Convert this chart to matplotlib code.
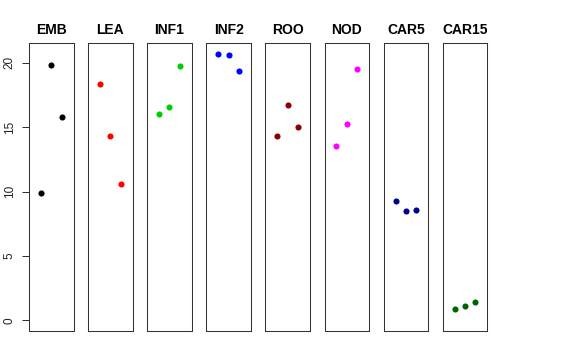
import numpy as np
import matplotlib
matplotlib.use('Agg')
from matplotlib import pyplot as plt

plt.rcParams['font.family'] = ['Liberation Sans', 'DejaVu Sans']

# panel names, colours and the three values of each panel
groups = ['EMB', 'LEA', 'INF1', 'INF2', 'ROO', 'NOD', 'CAR5', 'CAR15']
colors = ['#000000', '#FF0000', '#00CD00', '#0000FF', '#8B0000', '#FF00FF', '#00008B', '#006400']
emb = [9.88, 19.85, 15.79]
lea = [18.33, 14.34, 10.60]
inf1 = [16.02, 16.57, 19.74]
inf2 = [20.70, 20.57, 19.33]
roo = [14.34, 16.70, 15.02]
nod = [13.54, 15.22, 19.51]
car5 = [9.28, 8.45, 8.58]
car15 = [0.88, 1.09, 1.43]
values = [emb, lea, inf1, inf2, roo, nod, car5, car15]
yticks = [0, 5, 10, 15, 20]

W, H = 576, 360
fig = plt.figure(figsize=(W/100, H/100), dpi=100)

# panel geometry in pixels
left0 = 29
pitch = 59.1
pw = 44.5
top = 43
bottom = 331

ymax = max(max(v) for v in values)
pad = 0.04*ymax

for i, (name, col, vals) in enumerate(zip(groups, colors, values)):
    x0 = left0 + i*pitch
    ax = fig.add_axes([x0/W, 1 - bottom/H, pw/W, (bottom - top)/H])
    ax.plot(np.arange(1, len(vals) + 1), vals, 'o', color=col, markersize=4.4, markeredgewidth=0)
    ax.set_xlim(-0.16, 4.16)
    ax.set_ylim(-pad, ymax + pad)
    ax.set_xticks([])
    ax.set_title(name, fontsize=10, fontweight='bold', pad=6.5)
    for s in ax.spines.values():
        s.set_linewidth(0.75)
        s.set_color('#333333')
    if i == 0:
        ax.set_yticks(yticks)
        ax.set_yticklabels([str(t) for t in yticks], rotation=90, va='center', fontsize=8.5)
        ax.tick_params(axis='y', length=5, width=0.75, pad=4.5, colors='#333333', labelcolor='#222222')
    else:
        ax.set_yticks([])

fig.savefig('out.png', dpi=100)
